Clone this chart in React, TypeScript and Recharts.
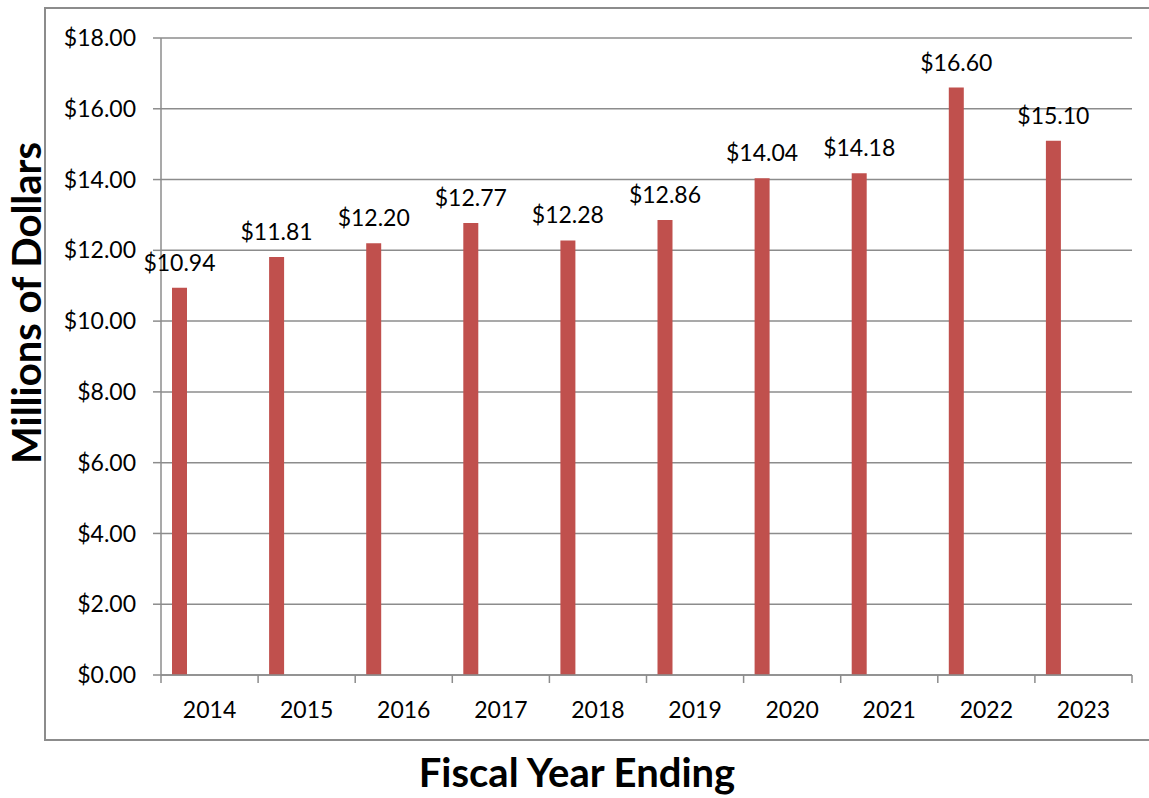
import { Bar, BarChart, CartesianGrid, LabelList, XAxis, YAxis } from 'recharts';

const years = ['2014', '2015', '2016', '2017', '2018', '2019', '2020', '2021', '2022', '2023'];
const amounts = [10.94, 11.81, 12.2, 12.77, 12.28, 12.86, 14.04, 14.18, 16.6, 15.1];
const yTicks = [0, 2, 4, 6, 8, 10, 12, 14, 16, 18];

const data = years.map((year, i) => ({ year, amount: amounts[i] }));

const FONT = 'Lato, "Open Sans", sans-serif';
const GRID = '#8c8c8c';
const BAR = '#C0504D';
const TICK_LEN = 8;
const TICK_GAP = 27;

const money = (v: number) => `$${Number(v).toFixed(2)}`;

// Excel puts the category ticks on the band edges, not under the labels
const YearTick = (props: any) => {
  const { x, y, payload, index, width, visibleTicksCount } = props;
  const half =
    payload && payload.offset ? payload.offset : width / (visibleTicksCount || years.length) / 2;
  const top = y - TICK_GAP;
  return (
    <g>
      <line x1={x - half} x2={x - half} y1={top} y2={top + TICK_LEN} stroke={GRID} strokeWidth={1.5} />
      {index === years.length - 1 && (
        <line x1={x + half} x2={x + half} y1={top} y2={top + TICK_LEN} stroke={GRID} strokeWidth={1.5} />
      )}
      <text x={x} y={y} dy="0.71em" textAnchor="middle" fill="#000" fontSize={23} fontFamily={FONT}>
        {payload.value}
      </text>
    </g>
  );
};

export default function App() {
  return (
    <div style={{ position: 'relative', width: 1149, height: 798, fontFamily: FONT }}>
      <style>{'body{margin:0}'}</style>
      {/* outer chart border */}
      <div
        style={{
          position: 'absolute',
          left: 44,
          top: 7,
          width: 1120,
          height: 734,
          border: `2px solid ${GRID}`,
          boxSizing: 'border-box',
        }}
      />
      <BarChart
        width={1149}
        height={798}
        data={data}
        margin={{ top: 38, right: 17, left: 0, bottom: 0 }}
        barGap={45}
        style={{ position: 'absolute', left: 0, top: 0 }}
      >
        <CartesianGrid vertical={false} stroke={GRID} strokeWidth={1.5} />
        <XAxis
          dataKey="year"
          height={123}
          axisLine={{ stroke: GRID, strokeWidth: 1.5 }}
          tickLine={false}
          tickSize={0}
          tickMargin={TICK_GAP}
          interval={0}
          tick={<YearTick />}
          label={{
            content: () => (
              <text
                x={577}
                y={787}
                textAnchor="middle"
                fontSize={40}
                fontWeight={700}
                fontFamily={FONT}
                fill="#000"
              >
                Fiscal Year Ending
              </text>
            ),
          }}
        />
        <YAxis
          width={161}
          domain={[0, 18]}
          ticks={yTicks}
          tickFormatter={money}
          tickSize={TICK_LEN}
          tickMargin={17}
          axisLine={{ stroke: GRID, strokeWidth: 1.5 }}
          tickLine={{ stroke: GRID, strokeWidth: 1.5 }}
          tick={{ fill: '#000', fontSize: 23, fontFamily: FONT }}
          label={{
            content: () => (
              <text
                x={41}
                y={303}
                transform="rotate(-90 41 303)"
                textAnchor="middle"
                fontSize={40}
                fontWeight={700}
                fontFamily={FONT}
                fill="#000"
              >
                Millions of Dollars
              </text>
            ),
          }}
        />
        <Bar dataKey="amount" fill={BAR} barSize={15} isAnimationActive={false}>
          <LabelList
            dataKey="amount"
            position="top"
            offset={17}
            formatter={(v: any) => money(v)}
            style={{ fill: '#000', fontSize: 23, fontFamily: FONT }}
          />
        </Bar>
        {/* empty second series: keeps the bars left of the band centre */}
        <Bar dataKey="unused" fill="none" barSize={15} isAnimationActive={false} />
      </BarChart>
    </div>
  );
}
